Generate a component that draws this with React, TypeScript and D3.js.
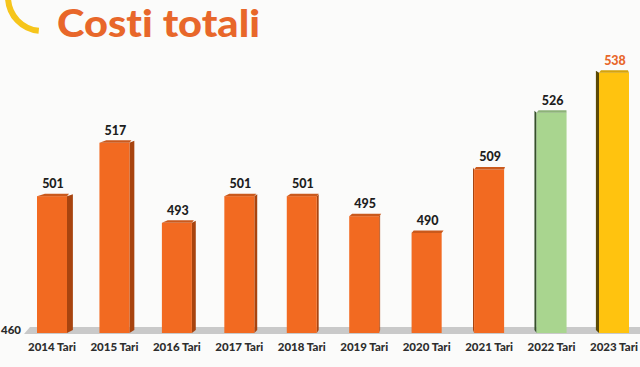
import React, { useEffect, useRef } from "react";
import * as d3 from "d3";

const categories = ["2014 Tari", "2015 Tari", "2016 Tari", "2017 Tari", "2018 Tari", "2019 Tari", "2020 Tari", "2021 Tari", "2022 Tari", "2023 Tari"];
const costs = [501, 517, 493, 501, 501, 495, 490, 509, 526, 538];
const barColors = ["#F26A21", "#F26A21", "#F26A21", "#F26A21", "#F26A21", "#F26A21", "#F26A21", "#F26A21", "#A9D58F", "#FFC30F"];
const sideColors = ["#A8440F", "#A8440F", "#A8440F", "#A8440F", "#A8440F", "#A8440F", "#A8440F", "#A8440F", "#35502A", "#5C4A05"];
const baseValue = 460;

const W = 640;
const H = 367;

export default function App() {
  const ref = useRef<SVGSVGElement>(null);

  useEffect(() => {
    document.body.style.margin = "0";
    const svg = d3.select(ref.current);
    svg.selectAll("*").remove();

    svg.append("rect").attr("width", W).attr("height", H).attr("fill", "#FBFBFA");

    // yellow decorative arc, top left
    svg.append("path")
      .attr("d", d3.arc()({ innerRadius: 31, outerRadius: 37, startAngle: -Math.PI / 2 - 0.05, endAngle: -Math.PI * 0.97 } as any))
      .attr("transform", "translate(42,-3)")
      .attr("fill", "#F6C51B");

    // title
    svg.append("text")
      .attr("x", 57)
      .attr("y", 37)
      .attr("fill", "#E8672A")
      .attr("textLength", 203)
      .attr("lengthAdjust", "spacingAndGlyphs")
      .style("font-family", "Lato, sans-serif")
      .style("font-weight", 900)
      .style("font-size", "38px")
      .style("font-variant-ligatures", "none")
      .text("Costi totali");

    const x = d3.scalePoint<string>().domain(categories).range([52, 614]);
    const y = d3.scaleLinear().domain([baseValue, 540]).range([333, 66]);
    const barW = 30;

    // floor band
    svg.append("path")
      .attr("d", `M30,327 L640,327 L640,334 L24,334 Z`)
      .attr("fill", "#C9C9C9");

    svg.append("text")
      .attr("x", 1)
      .attr("y", 334)
      .attr("fill", "#2A2A2A")
      .style("font-family", "Lato, sans-serif")
      .style("font-weight", 900)
      .style("font-size", "11.5px")
      .text(String(baseValue));

    const bars = svg.selectAll("g.bar")
      .data(categories)
      .enter()
      .append("g")
      .attr("class", "bar");

    bars.each(function (c, i) {
      const g = d3.select(this);
      const cx = x(c) as number;
      const top = y(costs[i]);
      const bottom = y(baseValue);
      const side = (420 - cx) * 0.016; // perspective side width
      const left = cx - barW / 2;
      const right = cx + barW / 2;

      // side face
      if (side > 0) {
        g.append("path")
          .attr("d", `M${right},${top} L${right + side},${top - 2} L${right + side},${bottom - 3} L${right},${bottom} Z`)
          .attr("fill", sideColors[i]);
      } else {
        g.append("path")
          .attr("d", `M${left},${top} L${left + side},${top - 2} L${left + side},${bottom - 3} L${left},${bottom} Z`)
          .attr("fill", sideColors[i]);
      }
      // front face
      g.append("rect")
        .attr("x", left)
        .attr("y", top)
        .attr("width", barW)
        .attr("height", bottom - top)
        .attr("fill", barColors[i]);
      // top cap
      g.append("path")
        .attr("d", `M${left},${top} L${left + Math.max(side, 0) + 2},${top - 2.5} L${right + Math.min(side, 0) + 2},${top - 2.5} L${right},${top} Z`)
        .attr("fill", d3.color(barColors[i])!.darker(0.5).toString());

      g.append("text")
        .attr("x", cx + 1)
        .attr("y", top - 8)
        .attr("text-anchor", "middle")
        .attr("fill", i === categories.length - 1 ? "#E8672A" : "#1E1E1E")
        .style("font-family", "Lato, sans-serif")
        .style("font-weight", 900)
        .style("font-size", "12.5px")
        .text(costs[i]);

      g.append("text")
        .attr("x", cx)
        .attr("y", 351)
        .attr("text-anchor", "middle")
        .attr("fill", "#2E2E2E")
        .style("font-family", "Lato, sans-serif")
        .style("font-weight", 900)
        .style("font-size", "11.5px")
        .text(c);
    });
  }, []);

  return <svg ref={ref} width={W} height={H} style={{ display: "block" }} />;
}
